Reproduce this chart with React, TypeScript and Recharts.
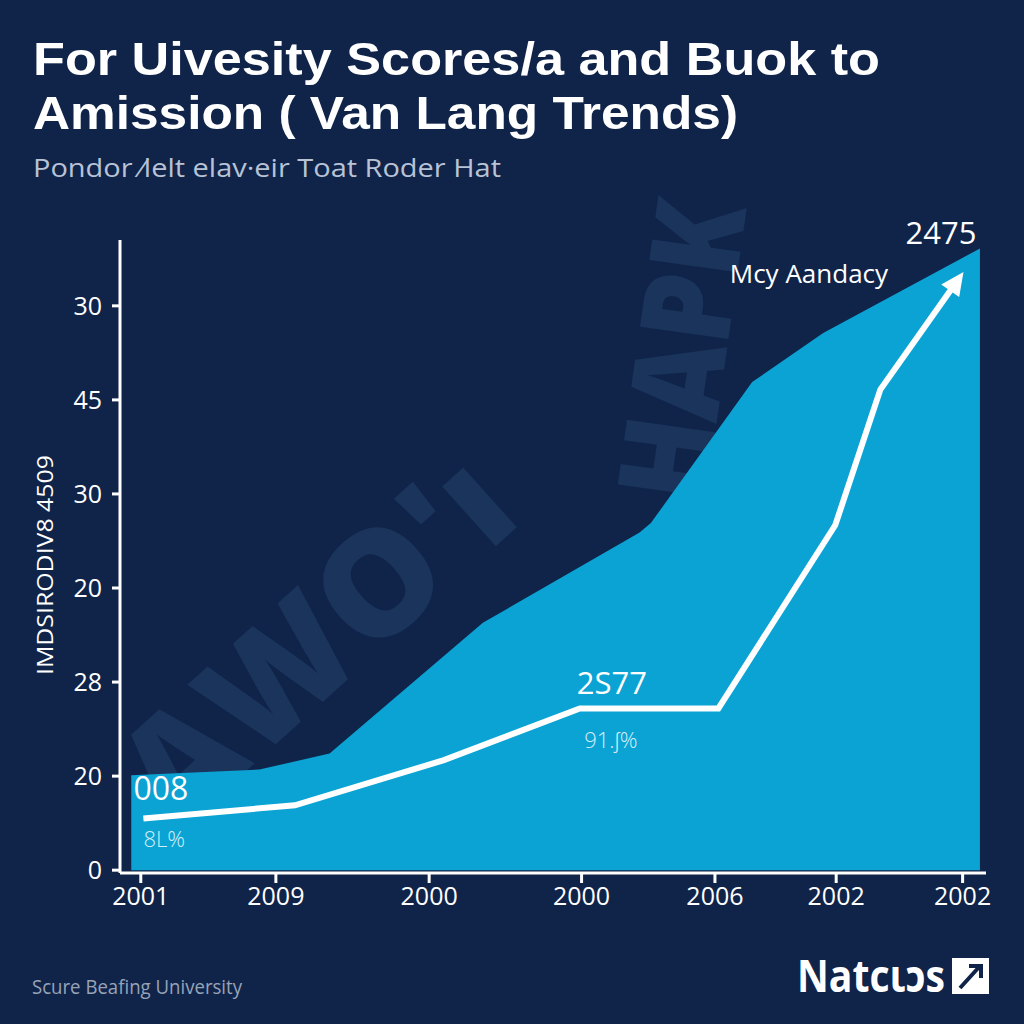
import React from 'react'
import { ComposedChart, Area, Line, XAxis, YAxis } from 'recharts'

// tick positions and labels (x in plot units 0–100, y in rank units 0–6)
const xTickPos = [2.4, 18.0, 35.7, 53.3, 68.7, 82.7, 97.3]
const xTickLabels = ['2001', '2009', '2000', '2000', '2006', '2002', '2002']
const yTickPos = [0, 1, 2, 3, 4, 5, 6]
const yTickLabels = ['0', '20', '28', '20', '30', '45', '30']

// filled area outline
const areaX = [1.3, 16.1, 24.2, 41.9, 60.0, 61.3, 73.0, 81.2, 99.3]
const areaY = [1.01, 1.07, 1.24, 2.63, 3.59, 3.69, 5.19, 5.71, 6.61]

// white trend line (arrow at the end)
const lineX = [2.7, 20.2, 37.4, 53.1, 69.1, 82.6, 87.8, 96.4]
const lineY = [0.55, 0.69, 1.17, 1.72, 1.72, 3.67, 5.11, 6.23]

const BG = '#10244a'
const FILL = '#0ba3d4'
const FONT = '"Open Sans", "Noto Sans", sans-serif'
const TITLE_FONT = '"Liberation Sans", Arial, sans-serif'

const areaData = areaX.map((x, i) => ({ x, v: areaY[i] }))
const lineData = lineX.map((x, i) => ({ x, v: lineY[i] }))

const xLabelOf = (v: number) => xTickLabels[xTickPos.indexOf(v)] ?? ''
const yLabelOf = (v: number) => yTickLabels[yTickPos.indexOf(v)] ?? ''

function ArrowDot(props: any) {
  const { cx, cy, index, points } = props
  if (index !== lineData.length - 1) return <g key={`d${index}`} />
  let ux = 0.58
  let uy = -0.82
  if (points && points.length > 1) {
    const p = points[points.length - 2]
    const dx = cx - p.x
    const dy = cy - p.y
    const len = Math.hypot(dx, dy) || 1
    ux = dx / len
    uy = dy / len
  }
  const tipX = cx + ux * 15
  const tipY = cy + uy * 15
  const bx = cx - ux * 8
  const by = cy - uy * 8
  const w = 11
  return (
    <polygon
      key={`d${index}`}
      points={`${tipX},${tipY} ${bx - uy * w},${by + ux * w} ${bx + uy * w},${by - ux * w}`}
      fill="#ffffff"
    />
  )
}

function LineLabel(props: any) {
  const { x, y, index } = props
  if (index === 0) {
    return (
      <g key="l0">
        <text x={x - 10} y={y - 18} fill="#ffffff" fontSize={32} fontWeight={400} fontFamily={FONT}>008</text>
        <text x={x} y={y + 29} fill="#d4eef9" fontSize={22} fontWeight={300} fontFamily={FONT}>8L%</text>
      </g>
    )
  }
  if (index === 3) {
    return (
      <g key="l3">
        <text x={x + 32} y={y - 14} textAnchor="middle" fill="#ffffff" fontSize={31} fontFamily={FONT}>2S77</text>
        <text x={x + 31} y={y + 40} textAnchor="middle" fill="#d4eef9" fontSize={22} fontWeight={300} fontFamily={FONT}>91.ʃ%</text>
      </g>
    )
  }
  return <g key={`l${index}`} />
}

function AreaLabel(props: any) {
  const { x, y, index } = props
  if (index !== areaData.length - 1) return <g key={`a${index}`} />
  return (
    <g key="alast">
      <text x={x - 39} y={y - 4} textAnchor="middle" fill="#ffffff" fontSize={31} fontFamily={FONT}>2475</text>
      <text x={x - 171} y={y + 35} textAnchor="middle" fill="#ffffff" fontSize={26} fontFamily={FONT}>Mcy Aandacy</text>
    </g>
  )
}

export default function App() {
  return (
    <div style={{ position: 'absolute', left: 0, top: 0, width: 1024, height: 1024, background: BG, overflow: 'hidden' }}>
      {/* faint background lettering, hidden by the area where they meet */}
      <svg width={1024} height={1024} style={{ position: 'absolute', left: 0, top: 0 }}>
        <text
          x={0}
          y={0}
          transform="translate(175,835) rotate(-42)"
          fill="#1a345b"
          fontSize={145}
          fontWeight={800}
          fontFamily={FONT}
          textLength={470}
          lengthAdjust="spacingAndGlyphs"
        >
          AWO'ı
        </text>
        <text
          x={0}
          y={0}
          transform="translate(705,505) rotate(-82)"
          fill="#1a345b"
          fontSize={125}
          fontWeight={800}
          fontFamily={FONT}
          textLength={300}
          lengthAdjust="spacingAndGlyphs"
        >
          HAPK
        </text>
      </svg>

      <div style={{ position: 'absolute', left: 0, top: 0 }}>
        <ComposedChart width={1024} height={1024} margin={{ top: 240, right: 38, bottom: 91, left: 60 }}>
          <XAxis
            dataKey="x"
            type="number"
            domain={[0, 100]}
            ticks={xTickPos}
            tickFormatter={xLabelOf}
            allowDataOverflow
            height={60}
            stroke="#ffffff"
            strokeWidth={3}
            tickSize={10}
            tickMargin={4}
            tick={{ fill: '#ffffff', fontSize: 25, fontFamily: FONT }}
          />
          <YAxis
            type="number"
            domain={[-0.03, 6.7]}
            ticks={yTickPos}
            tickFormatter={yLabelOf}
            allowDataOverflow
            width={60}
            stroke="#ffffff"
            strokeWidth={3}
            tickSize={8}
            tickMargin={10}
            tick={{ fill: '#ffffff', fontSize: 25, fontFamily: FONT }}
          />
          <Area
            data={areaData}
            dataKey="v"
            type="linear"
            fill={FILL}
            fillOpacity={1}
            stroke="none"
            isAnimationActive={false}
            label={AreaLabel}
          />
          <Line
            data={lineData}
            dataKey="v"
            type="linear"
            stroke="#ffffff"
            strokeWidth={6}
            dot={ArrowDot}
            activeDot={false}
            isAnimationActive={false}
            label={LineLabel}
          />
        </ComposedChart>
      </div>

      {/* titles, axis name, footer */}
      <svg width={1024} height={1024} style={{ position: 'absolute', left: 0, top: 0, pointerEvents: 'none' }}>
        <text x={33} y={75} fill="#ffffff" fontSize={47} fontWeight={700} fontFamily={TITLE_FONT} textLength={847} lengthAdjust="spacingAndGlyphs">
          For Uivesity Scores/a and Buok to
        </text>
        <text x={33} y={129} fill="#ffffff" fontSize={47} fontWeight={700} fontFamily={TITLE_FONT} textLength={705} lengthAdjust="spacingAndGlyphs">
          Amission ( Van Lang Trends)
        </text>
        <text x={33} y={177} fill="#b8c3d6" fontSize={26} fontFamily={FONT} textLength={468} lengthAdjust="spacingAndGlyphs">
          Pondor ⁄lelt elav·eir Toat Roder Hat
        </text>
        <text
          x={0}
          y={0}
          transform="translate(53,565) rotate(-90)"
          textAnchor="middle"
          fill="#ffffff"
          fontSize={22}
          fontFamily={FONT}
          textLength={220}
          lengthAdjust="spacingAndGlyphs"
        >
          IMDSIRODIV8 4509
        </text>
        <text x={32} y={994} fill="#97a3b7" fontSize={20} fontFamily={FONT} textLength={210} lengthAdjust="spacingAndGlyphs">
          Scure Beafing University
        </text>
        <text x={797} y={992} fill="#ffffff" fontSize={44} fontWeight={700} fontFamily={FONT} textLength={148} lengthAdjust="spacingAndGlyphs">
          Natcιɔs
        </text>
        <rect x={952} y={958} width={37} height={36} fill="#ffffff" />
        <path d="M960,988 L980,966 M969,966 L981,966 L981,978" stroke={BG} strokeWidth={4} fill="none" />
      </svg>
    </div>
  )
}
